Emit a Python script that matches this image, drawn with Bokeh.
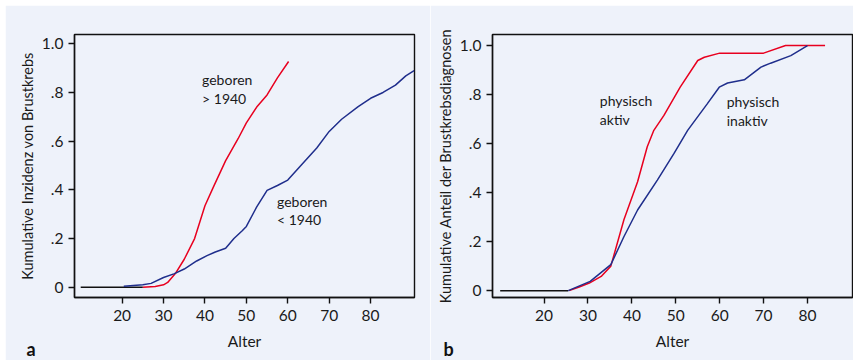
from bokeh.plotting import figure
from bokeh.layouts import row
from bokeh.models import Range1d, FixedTicker, Label, Title
from bokeh.embed import file_html
from bokeh.resources import INLINE

# ---------------- data ----------------
# panel a
a_base_x = [10, 25]
a_base_y = [0, 0]
a_red_x = [25, 28, 30, 31, 33, 35, 37.5, 40, 42, 45, 48, 50, 52.5, 55, 57.5, 60.2]
a_red_y = [0, 0.003, 0.01, 0.02, 0.06, 0.115, 0.2, 0.335, 0.41, 0.52, 0.61, 0.675, 0.74, 0.79, 0.86, 0.927]
a_blue_x = [20.4, 25, 27, 30, 32.5, 35, 38, 40.5, 42.5, 45, 47, 49, 50, 52.5, 55, 57.5, 60, 63,
            67, 70, 73, 77, 80, 83, 86, 88.5, 90.5]
a_blue_y = [0.004, 0.01, 0.016, 0.04, 0.055, 0.075, 0.108, 0.13, 0.145, 0.16, 0.2, 0.232, 0.25,
            0.33, 0.398, 0.418, 0.44, 0.497, 0.572, 0.64, 0.69, 0.742, 0.776, 0.80, 0.83, 0.868, 0.89]

# panel b
b_base_x = [10, 25.5]
b_base_y = [0, 0]
b_red_x = [25.7, 28, 30.3, 33, 35.2, 38.2, 41.3, 43.5, 45, 47.3, 51, 55, 56.5, 60, 70, 75, 84]
b_red_y = [0, 0.015, 0.031, 0.058, 0.1, 0.29, 0.444, 0.587, 0.654, 0.715, 0.83, 0.939, 0.952,
           0.969, 0.969, 1.0, 1.0]
b_blue_x = [25.5, 30.5, 35.2, 38.2, 41.3, 45.8, 49.6, 52.7, 57.2, 59.9, 61.8, 65.6, 69.4, 71.6, 76.2, 80]
b_blue_y = [0, 0.038, 0.106, 0.221, 0.329, 0.451, 0.56, 0.654, 0.763, 0.83, 0.847, 0.86, 0.912,
            0.928, 0.959, 1.0]

x_ticks = [20, 30, 40, 50, 60, 70, 80]
y_ticks = [0, 0.2, 0.4, 0.6, 0.8, 1.0]
y_tick_labels = ["0", ".2", ".4", ".6", ".8", "1.0"]

BG = "#eef2fa"
RED = "#e8001f"
BLUE = "#1f2e8c"
FONT = "Lato"


def make_fig(width, height, xr, yr, ylabel, bl, br, bt, bb):
    p = figure(width=width, height=height, output_backend="svg", toolbar_location=None,
               x_range=Range1d(*xr), y_range=Range1d(*yr),
               min_border_left=bl, min_border_right=br, min_border_top=bt, min_border_bottom=bb)
    p.background_fill_color = BG
    p.border_fill_color = BG
    p.grid.visible = False
    p.outline_line_color = "#111111"
    p.outline_line_width = 1.4
    for ax in (p.xaxis[0], p.yaxis[0]):
        ax.axis_line_color = "#111111"
        ax.axis_line_width = 1.4
        ax.major_tick_line_color = "#111111"
        ax.major_tick_line_width = 1.4
        ax.major_tick_in = 0
        ax.major_tick_out = 6
        ax.minor_tick_line_color = None
        ax.major_label_text_font = FONT
        ax.major_label_text_font_size = "15.5px"
        ax.major_label_text_color = "#1a1a1a"
        ax.axis_label_text_font = FONT
        ax.axis_label_text_font_style = "normal"
        ax.axis_label_text_color = "#1a1a1a"
    p.xaxis[0].ticker = FixedTicker(ticks=x_ticks)
    p.yaxis[0].ticker = FixedTicker(ticks=y_ticks)
    p.yaxis[0].major_label_overrides = {t: l for t, l in zip(y_ticks, y_tick_labels)}
    p.yaxis[0].major_label_orientation = 0
    p.xaxis[0].major_label_standoff = 6
    p.yaxis[0].major_label_standoff = 5
    p.xaxis[0].axis_label = "Alter"
    p.xaxis[0].axis_label_text_font_size = "15.5px"
    p.xaxis[0].axis_label_standoff = 8
    p.yaxis[0].axis_label = ylabel
    p.yaxis[0].axis_label_text_font_size = "14.5px"
    p.yaxis[0].axis_label_standoff = 3
    return p


def add_text(p, x, y, txt, size="14px", style="normal"):
    p.add_layout(Label(x=x, y=y, text=txt, text_font=FONT, text_font_size=size,
                       text_font_style=style, text_color="#1a1a1a",
                       text_baseline="middle", text_align="left"))


def add_panel_letter(p, letter, offset):
    p.add_layout(Title(text=letter, align="left", offset=offset, standoff=-30,
                       vertical_align="top", text_font=FONT,
                       text_font_size="18px", text_font_style="bold", text_color="#111111"),
                 "below")


# ---------------- panel a ----------------
pa = make_fig(425, 355, (8.5, 90.6), (-0.042, 1.038), "Kumulative Inzidenz von Brustkrebs",
              69, 16, 28, 63)
pa.line(a_base_x, a_base_y, line_color="#111111", line_width=1.5)
pa.line(a_red_x, a_red_y, line_color=RED, line_width=1.5)
pa.line(a_blue_x, a_blue_y, line_color=BLUE, line_width=1.5)
add_text(pa, 39.3, 0.853, "geboren")
add_text(pa, 39.3, 0.775, "> 1940")
add_text(pa, 57.4, 0.354, "geboren")
add_text(pa, 57.4, 0.280, "< 1940")
add_panel_letter(pa, "a", -48)

# ---------------- panel b ----------------
pb = make_fig(423, 355, (8.25, 90.25), (-0.028, 1.045), "Kumulative Anteil der Brustkrebsdiagnosen",
              62, 1, 29, 62)
pb.line(b_base_x, b_base_y, line_color="#111111", line_width=1.5)
pb.line(b_red_x, b_red_y, line_color=RED, line_width=1.5)
pb.line(b_blue_x, b_blue_y, line_color=BLUE, line_width=1.5)
add_text(pb, 32.7, 0.776, "physisch")
add_text(pb, 32.7, 0.699, "aktiv")
add_text(pb, 61.6, 0.772, "physisch")
add_text(pb, 61.6, 0.695, "inaktiv")
add_panel_letter(pb, "b", -49)

layout = row(pa, pb, spacing=0, margin=(5, 0, 0, 5))
open("out.html", "w").write(file_html(layout, INLINE))
